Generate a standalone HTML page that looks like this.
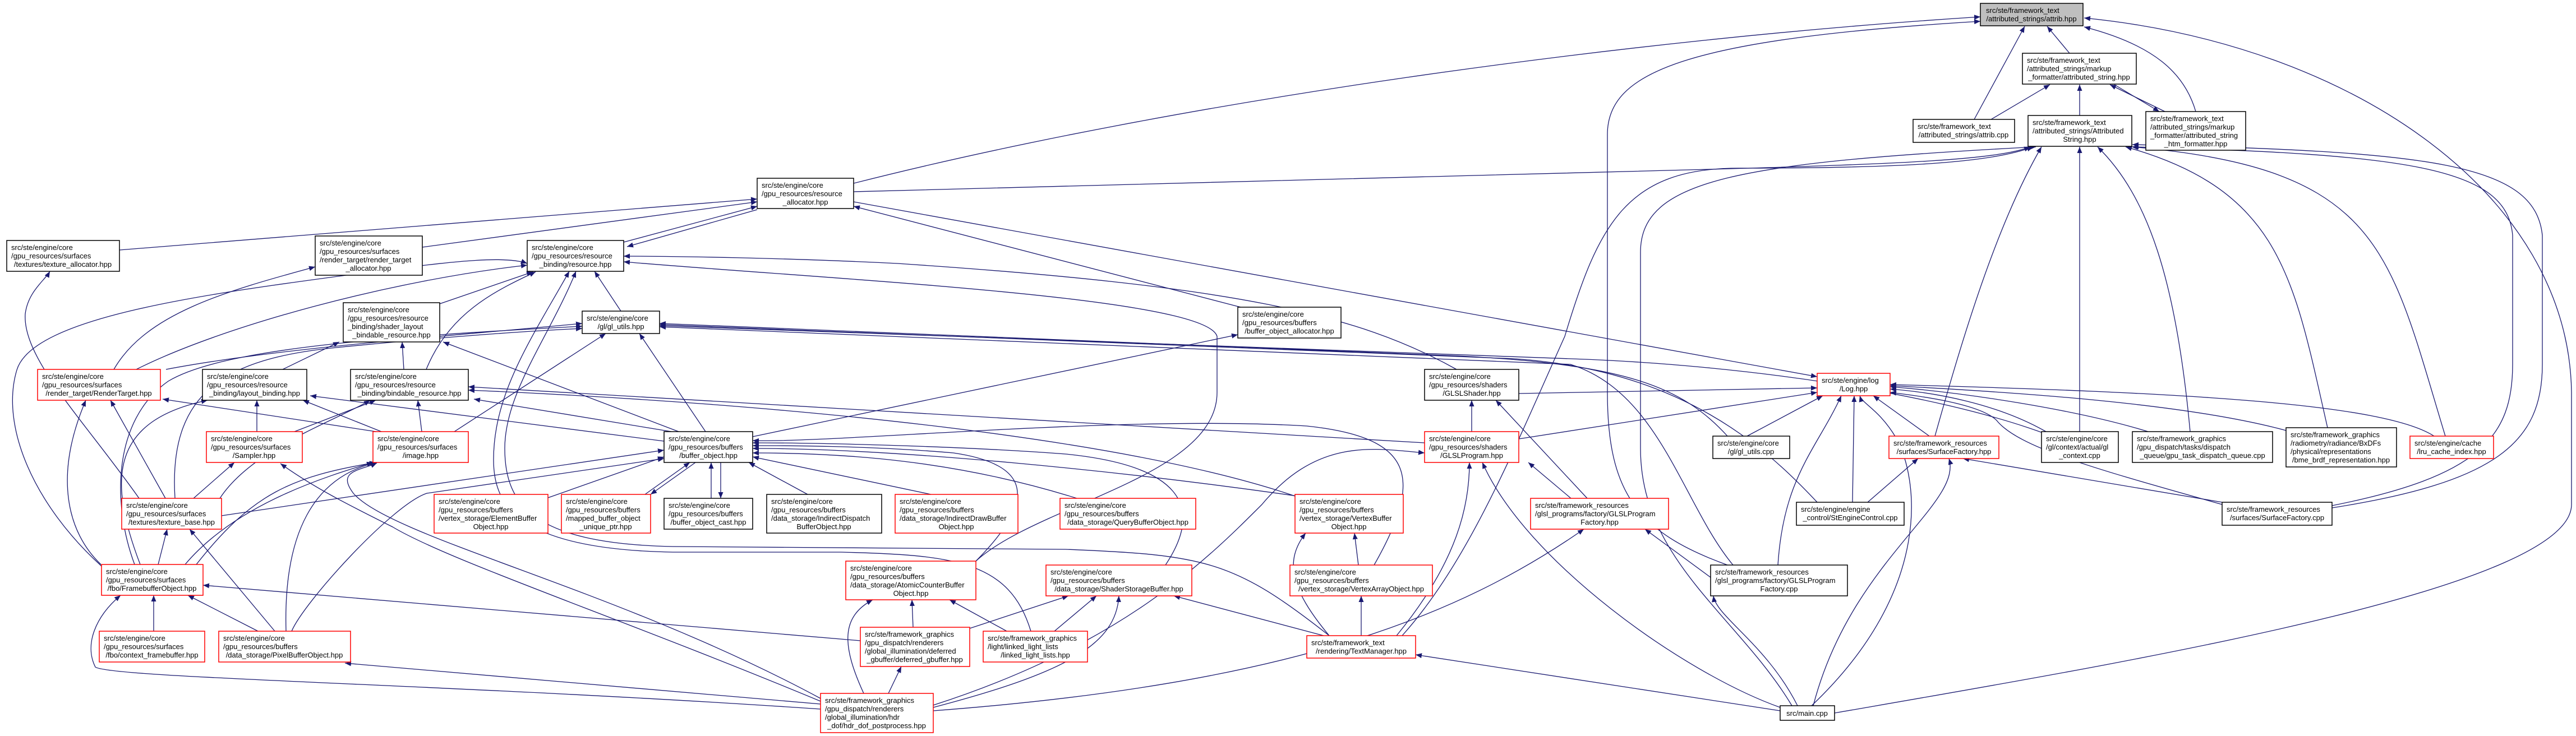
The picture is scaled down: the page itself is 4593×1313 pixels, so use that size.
<!DOCTYPE html>
<html><head><meta charset="utf-8"><style>
html,body{margin:0;padding:0;background:#fff;}
svg{display:block;}
text{font-family:"Liberation Sans",Arial,sans-serif;font-size:13px;fill:#000;}
.e{fill:none;stroke:#191970;stroke-width:1.3;marker-end:url(#a);}
.n{fill:#fff;stroke:#000;stroke-width:1.5;}
.r{fill:#fff;stroke:#ff0000;stroke-width:1.5;}
.g{fill:#bfbfbf;stroke:#000;stroke-width:1.5;}
</style></head><body>
<svg width="4593" height="1313" viewBox="0 0 4593 1313" xmlns="http://www.w3.org/2000/svg">
<defs><marker id="a" markerUnits="userSpaceOnUse" markerWidth="12" markerHeight="9" refX="11" refY="4.5" orient="auto"><path d="M0,0 L11,4.5 L0,9 z" fill="#191970"/></marker></defs>
<g>
<path class="e" d="M1522,327 C2100,180 2900,70 3531,30"/>
<path class="e" d="M3080,1008 C2920,950 2866,880 2866,700 L2866,240 C2866,130 3000,70 3531,38"/>
<path class="e" d="M3690,95 L3650,47"/>
<path class="e" d="M3520,213 L3610,47"/>
<path class="e" d="M3550,213 L3655,151"/>
<path class="e" d="M3708,206 L3708,151"/>
<path class="e" d="M3860,199 L3762,151"/>
<path class="e" d="M3770,151 L3850,199"/>
<path class="e" d="M3915,199 C3895,130 3840,80 3716,48"/>
<path class="e" d="M3271,1272 C3800,1180 4585,1050 4585,900 L4585,700 C4580,350 4200,80 3716,32"/>
<path class="e" d="M4158,902 C4420,850 4480,780 4480,650 L4480,420 C4470,300 4300,275 3802,262"/>
<path class="e" d="M4158,906 C4450,860 4533,790 4533,650 L4533,420 C4520,290 4330,270 3802,258"/>
<path class="e" d="M3450,778 C3500,600 3560,400 3640,262"/>
<path class="e" d="M3708,770 L3708,262"/>
<path class="e" d="M3905,770 C3880,500 3830,350 3740,262"/>
<path class="e" d="M4150,763 C4090,500 4070,340 3790,262"/>
<path class="e" d="M4360,778 C4260,450 4250,300 3801,262"/>
<path class="e" d="M1522,342 L3050,302 C3400,292 3560,285 3620,262"/>
<path class="e" d="M2500,1134 C2620,1000 2700,800 2790,600 C2850,400 2900,300 3100,300 C3400,300 3550,290 3625,262"/>
<path class="e" d="M3195,1259 C3100,1100 2925,1000 2925,800 L2925,450 C2925,320 3100,290 3630,262"/>
<path class="e" d="M1522,360 L3240,672"/>
<path class="e" d="M2708,702 L3240,692"/>
<path class="e" d="M2708,783 L3240,700"/>
<path class="e" d="M3115,778 L3250,706"/>
<path class="e" d="M3440,778 L3340,706"/>
<path class="e" d="M3303,896 L3306,706"/>
<path class="e" d="M3170,1008 C3180,850 3240,800 3283,706"/>
<path class="e" d="M3230,1259 C3450,1050 3420,850 3380,780 C3350,730 3320,720 3316,706"/>
<path class="e" d="M3648,770 C3560,720 3450,700 3370,694"/>
<path class="e" d="M3830,770 C3700,730 3500,700 3370,690"/>
<path class="e" d="M4076,768 C3900,720 3600,700 3370,688"/>
<path class="e" d="M4340,778 C4250,720 3900,700 3370,686"/>
<path class="e" d="M3962,900 C3750,840 3600,800 3560,750 C3530,720 3420,706 3370,700"/>
<path class="e" d="M3330,896 L3420,818"/>
<path class="e" d="M3962,896 L3500,818"/>
<path class="e" d="M3233,1259 C3300,1000 3500,900 3475,818"/>
<path class="e" d="M3205,1259 C3150,1150 3060,1100 3055,1063"/>
<path class="e" d="M3174,1262 C3000,1200 2720,1000 2643,825"/>
<path class="e" d="M3174,1268 L2524,1168"/>
<path class="e" d="M2490,1134 C2600,1000 2620,900 2620,825"/>
<path class="e" d="M2801,889 L2725,825"/>
<path class="e" d="M2830,889 L2667,714"/>
<path class="e" d="M2624,770 L2624,714"/>
<path class="e" d="M1664,1258 C2000,1150 2150,1000 2250,900 C2350,780 2450,800 2540,808"/>
<path class="e" d="M1664,1268 C2300,1220 2600,1100 2824,944"/>
<path class="e" d="M3050,1030 L2933,944"/>
<path class="e" d="M2360,1134 L2093,1063"/>
<path class="e" d="M2427,1134 L2427,1063"/>
<path class="e" d="M2370,1134 C2300,1050 2290,1000 2328,951"/>
<path class="e" d="M2422,1008 L2415,951"/>
<path class="e" d="M2597,659 C2420,560 2200,510 1600,470 C1400,460 1200,457 1112,457"/>
<path class="e" d="M1740,1001 C1850,900 2170,850 2170,700 L2170,600 C2150,530 1500,500 1112,467"/>
<path class="e" d="M2370,1134 C2200,1000 2150,990 1900,980 L1200,975 C950,970 900,900 900,800 C900,700 980,600 1027,484"/>
<path class="e" d="M1838,1126 C1800,1000 1700,990 1500,985 L1200,985 C920,980 880,900 880,820 C880,700 950,600 1015,484"/>
<path class="e" d="M977,888 L1184,815"/>
<path class="e" d="M1150,882 L1230,825"/>
<path class="e" d="M1240,825 L1160,882"/>
<path class="e" d="M1268,889 L1268,825"/>
<path class="e" d="M1285,825 L1285,889"/>
<path class="e" d="M1440,882 L1335,825"/>
<path class="e" d="M1660,882 L1342,815"/>
<path class="e" d="M1920,889 C1700,820 1500,808 1342,808"/>
<path class="e" d="M2320,886 C2000,840 1600,800 1342,800"/>
<path class="e" d="M1740,1001 C1840,900 1850,830 1700,808 C1550,795 1400,795 1342,795"/>
<path class="e" d="M2078,1008 C2150,900 2100,830 1900,810 C1700,795 1450,790 1342,790"/>
<path class="e" d="M2450,1008 C2540,850 2520,780 2330,760 C2000,740 1500,790 1342,786"/>
<path class="e" d="M395,920 L1184,803"/>
<path class="e" d="M520,1126 C542,1074 700,900 761,880 L1184,818"/>
<path class="e" d="M1210,770 L790,610"/>
<path class="e" d="M1258,770 L1140,595"/>
<path class="e" d="M1342,779 L2207,597"/>
<path class="e" d="M1197,770 L845,712"/>
<path class="e" d="M1184,787 L553,706"/>
<path class="e" d="M810,770 L1080,595"/>
<path class="e" d="M677,771 L290,712"/>
<path class="e" d="M680,770 L540,714"/>
<path class="e" d="M752,770 L745,714"/>
<path class="e" d="M458,770 L458,714"/>
<path class="e" d="M525,770 L670,714"/>
<path class="e" d="M1463,1251 C1100,1100 800,1000 700,940 C620,900 560,870 500,827"/>
<path class="e" d="M1463,1246 C1100,1050 700,960 630,880 C600,840 640,840 672,826"/>
<path class="e" d="M504,659 L605,610"/>
<path class="e" d="M720,659 L717,610"/>
<path class="e" d="M760,659 C800,560 880,520 955,485"/>
<path class="e" d="M784,542 L950,485"/>
<path class="e" d="M1107,555 L1060,484"/>
<path class="e" d="M203,659 C260,560 400,520 562,476"/>
<path class="e" d="M248,889 C150,750 40,640 45,560 C50,520 80,500 89,484"/>
<path class="e" d="M181,1010 C60,900 0,760 30,660 C60,560 400,520 700,480 C800,468 900,455 940,470"/>
<path class="e" d="M243,659 C400,580 700,500 940,473"/>
<path class="e" d="M296,659 C500,620 800,600 1038,577"/>
<path class="e" d="M240,1007 C200,900 200,750 300,680 C400,620 700,600 1038,582"/>
<path class="e" d="M312,889 C300,700 400,640 600,620 C800,600 950,590 1038,586"/>
<path class="e" d="M295,889 L197,714"/>
<path class="e" d="M345,889 L418,825"/>
<path class="e" d="M392,889 C450,800 600,750 660,714"/>
<path class="e" d="M282,1007 L298,944"/>
<path class="e" d="M180,1007 C120,950 95,850 153,714"/>
<path class="e" d="M250,1007 C190,850 200,750 370,714"/>
<path class="e" d="M330,1007 C420,900 580,850 665,825"/>
<path class="e" d="M350,1007 C450,880 520,850 670,825"/>
<path class="e" d="M274,1126 L274,1062"/>
<path class="e" d="M460,1126 L335,1062"/>
<path class="e" d="M490,1126 L338,944"/>
<path class="e" d="M510,1126 C505,950 560,850 672,825"/>
<path class="e" d="M1463,1265 C800,1220 200,1210 170,1190 C150,1150 170,1100 215,1062"/>
<path class="e" d="M1463,1256 L615,1183"/>
<path class="e" d="M1534,1143 L362,1044"/>
<path class="e" d="M1584,1237 L1607,1189"/>
<path class="e" d="M1540,1237 C1500,1150 1500,1100 1556,1070"/>
<path class="e" d="M1628,1119 L1626,1070"/>
<path class="e" d="M1795,1126 L1693,1070"/>
<path class="e" d="M1729,1121 L1905,1063"/>
<path class="e" d="M1880,1126 L1955,1063"/>
<path class="e" d="M1664,1262 C1900,1200 1990,1150 1995,1063"/>
<path class="e" d="M2540,790 L835,690"/>
<path class="e" d="M2309,885 C2000,780 1400,720 835,696"/>
<path class="e" d="M1112,432 L1350,368"/>
<path class="e" d="M1350,374 L1118,440"/>
<path class="e" d="M213,446 L1350,355"/>
<path class="e" d="M753,441 L1350,360"/>
<path class="e" d="M2212,548 L1522,368"/>
<path class="e" d="M3080,778 C3000,690 2900,650 2600,635 L1176,577"/>
<path class="e" d="M3240,896 C3150,800 3000,660 2700,640 L1176,579"/>
<path class="e" d="M3650,775 C3450,700 3100,650 2800,640 L1176,581"/>
<path class="e" d="M3090,1008 C3000,900 2960,700 2800,650 L1176,583"/>
</g>
<g>
<rect class="g" x="3531" y="6" width="183" height="40"/>
<text x="3541" y="23">src/ste/framework_text</text><text x="3622" y="38" text-anchor="middle">/attributed_strings/attrib.hpp</text>

<rect class="n" x="3606" y="95" width="203" height="55"/>
<text x="3614" y="112">src/ste/framework_text</text><text x="3614" y="127">/attributed_strings/markup</text><text x="3707" y="142" text-anchor="middle">_formatter/attributed_string.hpp</text>

<rect class="n" x="3411" y="213" width="181" height="41"/>
<text x="3419" y="230">src/ste/framework_text</text><text x="3501" y="245" text-anchor="middle">/attributed_strings/attrib.cpp</text>

<rect class="n" x="3616" y="206" width="185" height="55"/>
<text x="3624" y="223">src/ste/framework_text</text><text x="3624" y="238">/attributed_strings/Attributed</text><text x="3708" y="253" text-anchor="middle">String.hpp</text>

<rect class="n" x="3826" y="199" width="178" height="69"/>
<text x="3834" y="216">src/ste/framework_text</text><text x="3834" y="231">/attributed_strings/markup</text><text x="3834" y="246">_formatter/attributed_string</text><text x="3915" y="261" text-anchor="middle">_htm_formatter.hpp</text>

<rect class="n" x="1350" y="318" width="172" height="54"/>
<text x="1358" y="335">src/ste/engine/core</text><text x="1358" y="350">/gpu_resources/resource</text><text x="1436" y="365" text-anchor="middle">_allocator.hpp</text>

<rect class="n" x="12" y="429" width="201" height="55"/>
<text x="20" y="446">src/ste/engine/core</text><text x="20" y="461">/gpu_resources/surfaces</text><text x="112" y="476" text-anchor="middle">/textures/texture_allocator.hpp</text>

<rect class="n" x="562" y="421" width="191" height="70"/>
<text x="570" y="438">src/ste/engine/core</text><text x="570" y="453">/gpu_resources/surfaces</text><text x="570" y="468">/render_target/render_target</text><text x="657" y="483" text-anchor="middle">_allocator.hpp</text>

<rect class="n" x="940" y="429" width="172" height="55"/>
<text x="948" y="446">src/ste/engine/core</text><text x="948" y="461">/gpu_resources/resource</text><text x="1026" y="476" text-anchor="middle">_binding/resource.hpp</text>

<rect class="n" x="612" y="540" width="172" height="70"/>
<text x="620" y="557">src/ste/engine/core</text><text x="620" y="572">/gpu_resources/resource</text><text x="620" y="587">_binding/shader_layout</text><text x="698" y="602" text-anchor="middle">_bindable_resource.hpp</text>

<rect class="n" x="1038" y="555" width="138" height="40"/>
<text x="1046" y="572">src/ste/engine/core</text><text x="1107" y="587" text-anchor="middle">/gl/gl_utils.hpp</text>

<rect class="n" x="2207" y="548" width="184" height="55"/>
<text x="2215" y="565">src/ste/engine/core</text><text x="2215" y="580">/gpu_resources/buffers</text><text x="2299" y="595" text-anchor="middle">/buffer_object_allocator.hpp</text>

<rect class="r" x="67" y="659" width="219" height="55"/>
<text x="75" y="676">src/ste/engine/core</text><text x="75" y="691">/gpu_resources/surfaces</text><text x="176" y="706" text-anchor="middle">/render_target/RenderTarget.hpp</text>

<rect class="n" x="361" y="659" width="186" height="55"/>
<text x="369" y="676">src/ste/engine/core</text><text x="369" y="691">/gpu_resources/resource</text><text x="454" y="706" text-anchor="middle">_binding/layout_binding.hpp</text>

<rect class="n" x="625" y="659" width="210" height="55"/>
<text x="633" y="676">src/ste/engine/core</text><text x="633" y="691">/gpu_resources/resource</text><text x="730" y="706" text-anchor="middle">_binding/bindable_resource.hpp</text>

<rect class="n" x="2540" y="659" width="168" height="55"/>
<text x="2548" y="676">src/ste/engine/core</text><text x="2548" y="691">/gpu_resources/shaders</text><text x="2624" y="706" text-anchor="middle">/GLSLShader.hpp</text>

<rect class="r" x="3240" y="666" width="130" height="40"/>
<text x="3248" y="683">src/ste/engine/log</text><text x="3305" y="698" text-anchor="middle">/Log.hpp</text>

<rect class="r" x="368" y="770" width="171" height="55"/>
<text x="376" y="787">src/ste/engine/core</text><text x="376" y="802">/gpu_resources/surfaces</text><text x="453" y="817" text-anchor="middle">/Sampler.hpp</text>

<rect class="r" x="665" y="770" width="170" height="55"/>
<text x="673" y="787">src/ste/engine/core</text><text x="673" y="802">/gpu_resources/surfaces</text><text x="750" y="817" text-anchor="middle">/image.hpp</text>

<rect class="n" x="1184" y="770" width="158" height="55"/>
<text x="1192" y="787">src/ste/engine/core</text><text x="1192" y="802">/gpu_resources/buffers</text><text x="1263" y="817" text-anchor="middle">/buffer_object.hpp</text>

<rect class="r" x="2540" y="770" width="168" height="55"/>
<text x="2548" y="787">src/ste/engine/core</text><text x="2548" y="802">/gpu_resources/shaders</text><text x="2624" y="817" text-anchor="middle">/GLSLProgram.hpp</text>

<rect class="n" x="3054" y="778" width="137" height="40"/>
<text x="3062" y="795">src/ste/engine/core</text><text x="3122" y="810" text-anchor="middle">/gl/gl_utils.cpp</text>

<rect class="r" x="3368" y="778" width="196" height="40"/>
<text x="3376" y="795">src/ste/framework_resources</text><text x="3466" y="810" text-anchor="middle">/surfaces/SurfaceFactory.hpp</text>

<rect class="n" x="3640" y="770" width="137" height="55"/>
<text x="3648" y="787">src/ste/engine/core</text><text x="3648" y="802">/gl/context/actual/gl</text><text x="3708" y="817" text-anchor="middle">_context.cpp</text>

<rect class="n" x="3802" y="770" width="250" height="55"/>
<text x="3810" y="787">src/ste/framework_graphics</text><text x="3810" y="802">/gpu_dispatch/tasks/dispatch</text><text x="3927" y="817" text-anchor="middle">_queue/gpu_task_dispatch_queue.cpp</text>

<rect class="n" x="4076" y="763" width="197" height="70"/>
<text x="4084" y="780">src/ste/framework_graphics</text><text x="4084" y="795">/radiometry/radiance/BxDFs</text><text x="4084" y="810">/physical/representations</text><text x="4174" y="825" text-anchor="middle">/bme_brdf_representation.hpp</text>

<rect class="r" x="4297" y="778" width="149" height="40"/>
<text x="4305" y="795">src/ste/engine/cache</text><text x="4371" y="810" text-anchor="middle">/lru_cache_index.hpp</text>

<rect class="r" x="217" y="889" width="178" height="55"/>
<text x="225" y="906">src/ste/engine/core</text><text x="225" y="921">/gpu_resources/surfaces</text><text x="306" y="936" text-anchor="middle">/textures/texture_base.hpp</text>

<rect class="r" x="774" y="882" width="203" height="69"/>
<text x="782" y="899">src/ste/engine/core</text><text x="782" y="914">/gpu_resources/buffers</text><text x="782" y="929">/vertex_storage/ElementBuffer</text><text x="875" y="944" text-anchor="middle">Object.hpp</text>

<rect class="r" x="1001" y="882" width="159" height="69"/>
<text x="1009" y="899">src/ste/engine/core</text><text x="1009" y="914">/gpu_resources/buffers</text><text x="1009" y="929">/mapped_buffer_object</text><text x="1080" y="944" text-anchor="middle">_unique_ptr.hpp</text>

<rect class="n" x="1184" y="889" width="158" height="55"/>
<text x="1192" y="906">src/ste/engine/core</text><text x="1192" y="921">/gpu_resources/buffers</text><text x="1263" y="936" text-anchor="middle">/buffer_object_cast.hpp</text>

<rect class="n" x="1367" y="882" width="205" height="69"/>
<text x="1375" y="899">src/ste/engine/core</text><text x="1375" y="914">/gpu_resources/buffers</text><text x="1375" y="929">/data_storage/IndirectDispatch</text><text x="1469" y="944" text-anchor="middle">BufferObject.hpp</text>

<rect class="r" x="1596" y="882" width="219" height="69"/>
<text x="1604" y="899">src/ste/engine/core</text><text x="1604" y="914">/gpu_resources/buffers</text><text x="1604" y="929">/data_storage/IndirectDrawBuffer</text><text x="1705" y="944" text-anchor="middle">Object.hpp</text>

<rect class="r" x="1890" y="889" width="242" height="55"/>
<text x="1898" y="906">src/ste/engine/core</text><text x="1898" y="921">/gpu_resources/buffers</text><text x="2011" y="936" text-anchor="middle">/data_storage/QueryBufferObject.hpp</text>

<rect class="r" x="2309" y="882" width="193" height="69"/>
<text x="2317" y="899">src/ste/engine/core</text><text x="2317" y="914">/gpu_resources/buffers</text><text x="2317" y="929">/vertex_storage/VertexBuffer</text><text x="2405" y="944" text-anchor="middle">Object.hpp</text>

<rect class="r" x="2729" y="889" width="246" height="55"/>
<text x="2737" y="906">src/ste/framework_resources</text><text x="2737" y="921">/glsl_programs/factory/GLSLProgram</text><text x="2852" y="936" text-anchor="middle">Factory.hpp</text>

<rect class="n" x="3203" y="896" width="192" height="41"/>
<text x="3211" y="913">src/ste/engine/engine</text><text x="3299" y="928" text-anchor="middle">_control/StEngineControl.cpp</text>

<rect class="n" x="3962" y="896" width="196" height="41"/>
<text x="3970" y="913">src/ste/framework_resources</text><text x="4060" y="928" text-anchor="middle">/surfaces/SurfaceFactory.cpp</text>

<rect class="r" x="1508" y="1001" width="232" height="69"/>
<text x="1516" y="1018">src/ste/engine/core</text><text x="1516" y="1033">/gpu_resources/buffers</text><text x="1516" y="1048">/data_storage/AtomicCounterBuffer</text><text x="1624" y="1063" text-anchor="middle">Object.hpp</text>

<rect class="r" x="181" y="1007" width="181" height="55"/>
<text x="189" y="1024">src/ste/engine/core</text><text x="189" y="1039">/gpu_resources/surfaces</text><text x="271" y="1054" text-anchor="middle">/fbo/FramebufferObject.hpp</text>

<rect class="r" x="1865" y="1008" width="260" height="55"/>
<text x="1873" y="1025">src/ste/engine/core</text><text x="1873" y="1040">/gpu_resources/buffers</text><text x="1995" y="1055" text-anchor="middle">/data_storage/ShaderStorageBuffer.hpp</text>

<rect class="r" x="2300" y="1008" width="254" height="55"/>
<text x="2308" y="1025">src/ste/engine/core</text><text x="2308" y="1040">/gpu_resources/buffers</text><text x="2427" y="1055" text-anchor="middle">/vertex_storage/VertexArrayObject.hpp</text>

<rect class="n" x="3050" y="1008" width="244" height="55"/>
<text x="3058" y="1025">src/ste/framework_resources</text><text x="3058" y="1040">/glsl_programs/factory/GLSLProgram</text><text x="3172" y="1055" text-anchor="middle">Factory.cpp</text>

<rect class="r" x="177" y="1126" width="188" height="55"/>
<text x="185" y="1143">src/ste/engine/core</text><text x="185" y="1158">/gpu_resources/surfaces</text><text x="271" y="1173" text-anchor="middle">/fbo/context_framebuffer.hpp</text>

<rect class="r" x="390" y="1126" width="235" height="55"/>
<text x="398" y="1143">src/ste/engine/core</text><text x="398" y="1158">/gpu_resources/buffers</text><text x="507" y="1173" text-anchor="middle">/data_storage/PixelBufferObject.hpp</text>

<rect class="r" x="1534" y="1119" width="195" height="70"/>
<text x="1542" y="1136">src/ste/framework_graphics</text><text x="1542" y="1151">/gpu_dispatch/renderers</text><text x="1542" y="1166">/global_illumination/deferred</text><text x="1631" y="1181" text-anchor="middle">_gbuffer/deferred_gbuffer.hpp</text>

<rect class="r" x="1753" y="1126" width="186" height="55"/>
<text x="1761" y="1143">src/ste/framework_graphics</text><text x="1761" y="1158">/light/linked_light_lists</text><text x="1846" y="1173" text-anchor="middle">/linked_light_lists.hpp</text>

<rect class="r" x="2330" y="1134" width="194" height="40"/>
<text x="2338" y="1151">src/ste/framework_text</text><text x="2427" y="1166" text-anchor="middle">/rendering/TextManager.hpp</text>

<rect class="r" x="1463" y="1237" width="201" height="70"/>
<text x="1471" y="1254">src/ste/framework_graphics</text><text x="1471" y="1269">/gpu_dispatch/renderers</text><text x="1471" y="1284">/global_illumination/hdr</text><text x="1563" y="1299" text-anchor="middle">_dof/hdr_dof_postprocess.hpp</text>

<rect class="n" x="3174" y="1259" width="97" height="26"/>
<text x="3222" y="1277" text-anchor="middle">src/main.cpp</text>
</g>
</svg>
</body></html>
